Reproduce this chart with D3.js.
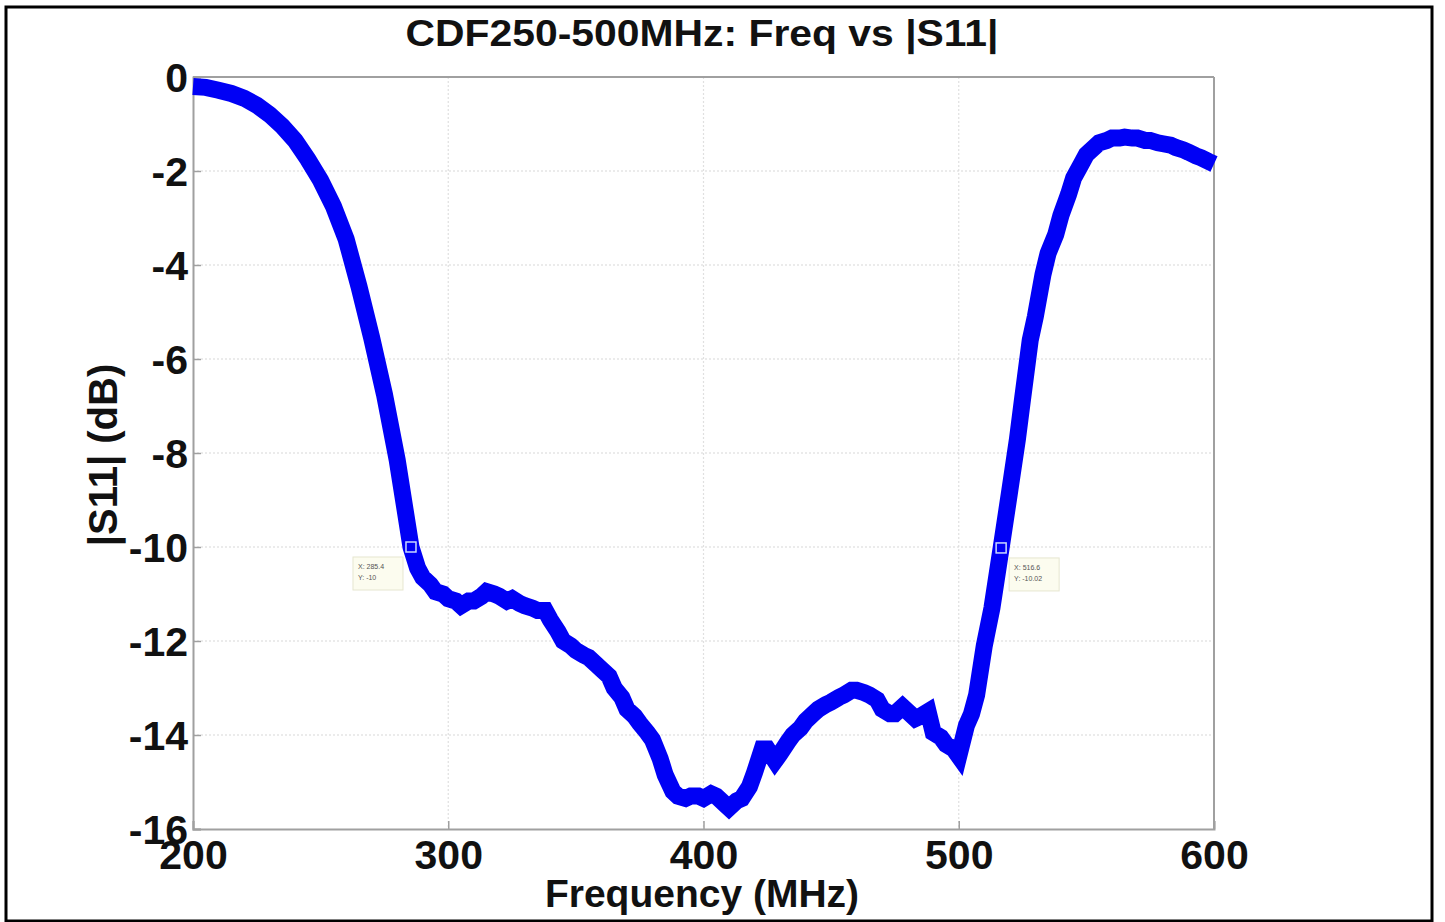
<!DOCTYPE html>
<html><head><meta charset="utf-8">
<script src="https://cdn.jsdelivr.net/npm/d3@7"></script>
<style>body{margin:0;background:#fff}svg{display:block}</style>
</head><body>
<svg id="c" width="1445" height="922"></svg>
<script>
const title = "CDF250-500MHz: Freq vs |S11|";
const xLabel = "Frequency (MHz)";
const yLabel = "|S11| (dB)";
const xTicks = [200, 300, 400, 500, 600];
const yTicks = [0, -2, -4, -6, -8, -10, -12, -14, -16];
const freq = [200,205,210,215,220,225,230,235,240,245,250,255,260,265,270,275,280,285.4,288,290,293,295,298,300,303,305,308,310,313,315,318,320,323,325,328,330,333,335,338,340,343,345,348,350,353,355,358,360,363,365,368,370,373,375,378,380,383,385,388,390,393,395,398,400,403,405,408,410,413,415,418,420,423,425,428,430,433,435,438,440,443,445,448,450,453,455,458,460,463,465,468,470,473,475,478,480,483,485,488,490,493,495,498,500,503,505,507,510,513,516.6,520,523,525,528,530,533,535,538,540,543,545,548,550,553,555,558,560,563,565,568,570,573,575,578,580,583,585,588,590,593,595,598,600];
const s11 = [-0.2,-0.22,-0.28,-0.35,-0.45,-0.6,-0.8,-1.05,-1.35,-1.75,-2.2,-2.75,-3.45,-4.45,-5.55,-6.75,-8.15,-10.0,-10.45,-10.65,-10.8,-10.95,-11.0,-11.1,-11.15,-11.25,-11.15,-11.15,-11.05,-10.95,-11.0,-11.05,-11.15,-11.1,-11.2,-11.25,-11.3,-11.35,-11.35,-11.55,-11.8,-12.0,-12.1,-12.2,-12.3,-12.35,-12.5,-12.6,-12.75,-13.0,-13.2,-13.45,-13.6,-13.75,-13.95,-14.1,-14.5,-14.85,-15.2,-15.3,-15.35,-15.3,-15.3,-15.35,-15.25,-15.3,-15.45,-15.55,-15.4,-15.35,-15.1,-14.8,-14.3,-14.3,-14.55,-14.4,-14.15,-14.0,-13.85,-13.7,-13.55,-13.45,-13.35,-13.3,-13.2,-13.15,-13.05,-13.05,-13.1,-13.15,-13.25,-13.45,-13.55,-13.55,-13.4,-13.5,-13.65,-13.6,-13.5,-13.95,-14.05,-14.2,-14.3,-14.45,-13.8,-13.55,-13.15,-12.1,-11.3,-10.02,-8.8,-7.7,-6.85,-5.6,-5.1,-4.2,-3.75,-3.35,-2.95,-2.5,-2.15,-1.85,-1.65,-1.5,-1.4,-1.35,-1.3,-1.3,-1.28,-1.3,-1.3,-1.35,-1.35,-1.4,-1.42,-1.45,-1.5,-1.55,-1.6,-1.68,-1.72,-1.8,-1.85];
const tipX = [285.4, 516.6];
const tipY = [-10, -10.02];
const tipText = [["X: 285.4","Y: -10"],["X: 516.6","Y: -10.02"]];

const svg = d3.select("#c");
const font = "'Liberation Sans', Arial, sans-serif";
const m = {l:193, r:1214, t:77, b:829};
const x = d3.scaleLinear().domain([200,600]).range([m.l, m.r]);
const y = d3.scaleLinear().domain([-16,0]).range([m.b, m.t]);

// outer frame
svg.append("rect").attr("x",6).attr("y",7).attr("width",1426).attr("height",914)
  .attr("fill","none").attr("stroke","#000").attr("stroke-width",3);

// grid
const g = svg.append("g");
g.selectAll(".gx").data(xTicks.slice(1,-1)).join("line")
  .attr("x1",d=>x(d)).attr("x2",d=>x(d)).attr("y1",m.t).attr("y2",m.b)
  .attr("stroke","#e0e0e0").attr("stroke-width",1.2).attr("stroke-dasharray","2,2");
g.selectAll(".gy").data(yTicks.slice(1,-1)).join("line")
  .attr("x1",m.l).attr("x2",m.r).attr("y1",d=>y(d)).attr("y2",d=>y(d))
  .attr("stroke","#d8d8d8").attr("stroke-width",1.2).attr("stroke-dasharray","2,2");

// axes
const fmt = d => String(d);
const xAxis = d3.axisBottom(x).tickValues(xTicks).tickSize(-8).tickFormat(fmt);
const yAxis = d3.axisLeft(y).tickValues(yTicks).tickSize(-8).tickFormat(fmt);
const ax = svg.append("g").attr("transform",`translate(0,${m.b})`).call(xAxis);
const ay = svg.append("g").attr("transform",`translate(${m.l},0)`).call(yAxis);
[ax, ay].forEach(a=>{
  a.select(".domain").attr("stroke","#a0a0a0").attr("stroke-width",2);
  a.selectAll(".tick line").attr("stroke","#a0a0a0").attr("stroke-width",1.5);
  a.selectAll("text").attr("font-family",font).attr("font-weight","bold")
    .attr("font-size",41).attr("fill","#111");
});
ax.selectAll("text").attr("dy",null).attr("y",40);
ay.selectAll("text").attr("x",-5).attr("dy","0.36em");
// top & right box
svg.append("line").attr("x1",m.l).attr("x2",m.r).attr("y1",m.t).attr("y2",m.t).attr("stroke","#a0a0a0").attr("stroke-width",2);
svg.append("line").attr("x1",m.r).attr("x2",m.r).attr("y1",m.t).attr("y2",m.b).attr("stroke","#a0a0a0").attr("stroke-width",2);

// data line
const line = d3.line().x((d,i)=>x(freq[i])).y(d=>y(d));
svg.append("path").datum(s11).attr("d",line).attr("fill","none")
  .attr("stroke","#0000f5").attr("stroke-width",17).attr("stroke-linejoin","miter").attr("stroke-linecap","butt");

// data tips
tipX.forEach((tx,i)=>{
  const px = x(tx), py = y(tipY[i]);
  svg.append("rect").attr("x",px-5).attr("y",py-5).attr("width",10).attr("height",10)
    .attr("fill","none").attr("stroke","#c8d8ff").attr("stroke-width",1.5);
  const bx = i===0 ? px-58 : px+8;
  svg.append("rect").attr("x",bx).attr("y",py+10).attr("width",50).attr("height",33)
    .attr("fill","#fcfcef").attr("stroke","#e6e6d0").attr("stroke-width",1);
  tipText[i].forEach((t,j)=>{
    svg.append("text").attr("x",bx+5).attr("y",py+22+j*11).attr("font-family",font)
      .attr("font-size",7).attr("fill","#555").text(t);
  });
});

// title & labels
svg.append("text").attr("x",702).attr("y",46).attr("text-anchor","middle")
  .attr("font-family",font).attr("font-weight","bold").attr("font-size",36).attr("fill","#111")
  .attr("textLength",593).attr("lengthAdjust","spacingAndGlyphs").text(title);
svg.append("text").attr("x",702).attr("y",907).attr("text-anchor","middle")
  .attr("font-family",font).attr("font-weight","bold").attr("font-size",39).attr("fill","#111").text(xLabel);
svg.append("text").attr("transform","translate(117,455) rotate(-90)").attr("text-anchor","middle")
  .attr("font-family",font).attr("font-weight","bold").attr("font-size",40).attr("fill","#111").text(yLabel);
</script>
</body></html>
